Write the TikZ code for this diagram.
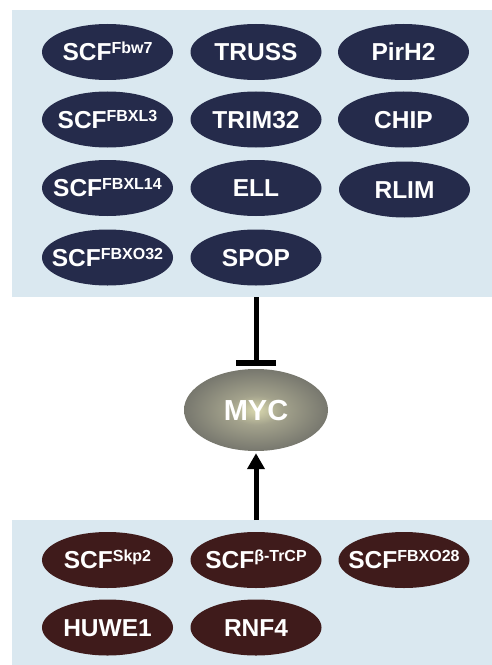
\documentclass[tikz,border=0pt]{standalone}
\usepackage{fontspec}
\setmainfont{Liberation Sans}
\usetikzlibrary{shapes.geometric,arrows.meta}
\definecolor{panelblue}{HTML}{DAE8F0}
\definecolor{navyfill}{HTML}{252B4B}
\definecolor{maroonfill}{HTML}{3F1B1B}
\definecolor{mycA}{HTML}{D9D8AE}
\definecolor{mycB}{HTML}{A3A28C}
\definecolor{mycC}{HTML}{7A7A70}
\definecolor{mycD}{HTML}{58584C}
\definecolor{mycE}{HTML}{333327}
\pgfdeclareradialshading{mycshade}{\pgfpoint{0bp}{0bp}}{color(0bp)=(mycA); color(9bp)=(mycB); color(24bp)=(mycC); color(40bp)=(mycD); color(50bp)=(mycE)}
\newcommand{\lbl}[1]{\makebox[0pt][c]{#1}}
\newcommand{\scfsup}[1]{SCF\raisebox{7bp}{\fontsize{16bp}{16bp}\selectfont #1}}
\begin{document}
\begin{tikzpicture}[x=1bp,y=-1bp,
  panel/.style={rectangle, fill=panelblue, draw=none, anchor=north west, inner sep=0pt},
  ovalbase/.style={ellipse, draw=none, minimum width=131bp, minimum height=56bp, inner sep=0pt,
    text=white, font=\fontsize{24.5bp}{24.5bp}\selectfont\bfseries, text height=17.5bp, text depth=0pt},
  topoval/.style={ovalbase, fill=navyfill},
  botoval/.style={ovalbase, fill=maroonfill},
  mycnode/.style={ellipse, draw=none, minimum width=144bp, minimum height=82bp, inner sep=0pt,
    shading=mycshade, text=white, font=\fontsize{29bp}{29bp}\selectfont\bfseries, text height=20.8bp, text depth=0pt},
  inhib/.style={line width=5bp, -{Bar[width=40bp,line width=6bp]}},
  activ/.style={line width=5bp, -{Triangle[length=16bp,width=17bp]}}
]
\useasboundingbox (0,0) rectangle (492,665);
\node[panel, minimum width=480bp, minimum height=287bp] (toppanel) at (12,10) {};
\node[panel, minimum width=480bp, minimum height=145bp] (botpanel) at (12,520) {};

\node[topoval] (fbw7) at (107.5,52) {\lbl{\scfsup{Fbw7}}};
\node[topoval] (truss) at (256,52) {\lbl{TRUSS}};
\node[topoval] (pirh2) at (403.5,52) {\lbl{PirH2}};
\node[topoval] (fbxl3) at (107.5,119.5) {\lbl{\scfsup{FBXL3}}};
\node[topoval] (trim32) at (256,119.5) {\lbl{TRIM32}};
\node[topoval] (chip) at (403.5,119.5) {\lbl{CHIP}};
\node[topoval] (fbxl14) at (107.5,188) {\lbl{\scfsup{FBXL14}}};
\node[topoval] (ell) at (256,188) {\lbl{ELL}};
\node[topoval] (rlim) at (404.5,189.5) {\lbl{RLIM}};
\node[topoval] (fbxo32) at (107.5,257.5) {\lbl{\scfsup{FBXO32}}};
\node[topoval] (spop) at (256,257.5) {\lbl{SPOP}};

\node[mycnode] (myc) at (256,410) {MYC};

\node[botoval] (skp2) at (107.5,560) {\lbl{\scfsup{Skp2}}};
\node[botoval] (btrcp) at (256,560) {\lbl{\scfsup{β-TrCP}}};
\node[botoval] (fbxo28) at (404,560) {\lbl{\scfsup{FBXO28}}};
\node[botoval] (huwe1) at (107.5,627.5) {\lbl{HUWE1}};
\node[botoval] (rnf4) at (256,627.5) {\lbl{RNF4}};

\draw[inhib] (toppanel.south -| myc.north) -- ([yshift=3bp]myc.north);
\draw[activ] (botpanel.north -| myc.south) -- ([yshift=-2bp]myc.south);
\end{tikzpicture}
\end{document}
